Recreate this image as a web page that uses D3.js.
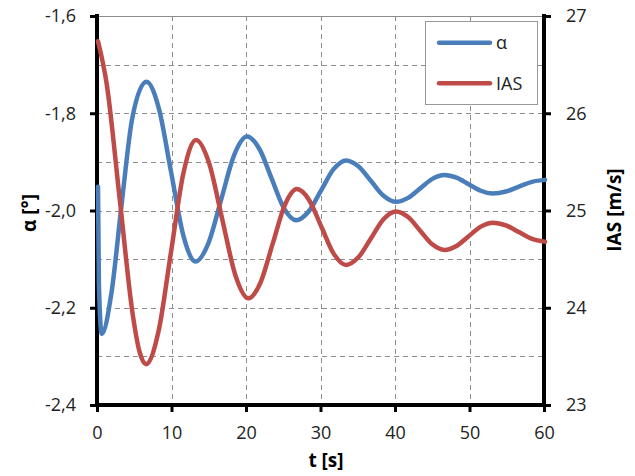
<!DOCTYPE html>
<html>
<head>
<meta charset="utf-8">
<script src="https://cdnjs.cloudflare.com/ajax/libs/d3/7.8.5/d3.min.js"></script>
<style>
  html, body { margin: 0; padding: 0; background: #fff; }
  svg { display: block; font-family: "Open Sans", "Noto Sans", sans-serif; }
</style>
</head>
<body>
<svg id="chart" width="635" height="476"></svg>
<script>
// Time samples (s) and angle of attack (°)
const alphaTime = [0, 0.12, 0.5, 1.8, 3.15, 4.6, 6.5, 8.15, 9.8, 11.45, 13.1,
  14.825, 16.55, 18.275, 20.0, 21.65, 23.3, 24.95, 26.6, 28.275, 29.95, 31.625, 33.3,
  34.975, 36.65, 38.325, 40.0, 41.625, 43.25, 44.875, 46.5, 48.125, 49.75, 51.375, 53.0,
  54.75, 56.5, 58.25, 60.0];
const alphaValues = [-1.951, -2.15, -2.254, -2.17, -1.99, -1.81, -1.735, -1.789, -1.92, -2.051, -2.105,
  -2.067, -1.9765, -1.886, -1.848, -1.873, -1.934, -1.995, -2.02, -2.002, -1.9585, -1.915, -1.897,
  -1.9094, -1.9395, -1.9696, -1.982, -1.974, -1.9545, -1.935, -1.927, -1.9326, -1.946, -1.9594, -1.965,
  -1.961, -1.951, -1.941, -1.937];

// Time samples (s) and indicated airspeed (m/s)
const iasTime = [0, 1.16, 2.925, 4.69, 5.57, 6.45, 8.125, 9.8, 11.475, 13.15,
  14.91, 16.675, 18.44, 20.2, 21.825, 23.45, 25.075, 26.7, 28.35, 30.0, 31.65, 33.3,
  34.975, 36.65, 38.325, 40.0, 41.625, 43.25, 44.875, 46.5, 48.125, 49.75, 51.375, 53.0,
  54.75, 56.5, 58.25, 60.0];
const iasValues = [26.74, 26.305, 25.11, 23.915, 23.548, 23.42, 23.758, 24.573, 25.388, 25.725,
  25.487, 24.911, 24.335, 24.097, 24.261, 24.659, 25.056, 25.22, 25.106, 24.83, 24.554, 24.44,
  24.521, 24.715, 24.91, 24.99, 24.932, 24.792, 24.652, 24.594, 24.635, 24.735, 24.834, 24.875,
  24.847, 24.778, 24.709, 24.68];

const xTicks = [0, 10, 20, 30, 40, 50, 60];
const alphaTicks = [-1.6, -1.8, -2.0, -2.2, -2.4];
const alphaGrid = [-1.7, -1.8, -1.9, -2.0, -2.1, -2.2, -2.3];
const iasTicks = [23, 24, 25, 26, 27];
const seriesNames = ["α", "IAS"];
const seriesColors = ["#4a7ebb", "#be4b48"];

const m = { left: 97, right: 544, top: 16, bottom: 405 };
const svg = d3.select("#chart");

const x = d3.scaleLinear().domain([0, 60]).range([m.left, m.right]);
const yA = d3.scaleLinear().domain([-2.4, -1.6]).range([m.bottom, m.top]);
const yI = d3.scaleLinear().domain([23, 27]).range([m.bottom, m.top]);

const fmt = d => d3.format(".1f")(d).replace(".", ",").replace("−", "-");

// dashed grid
const grid = svg.append("g").attr("stroke", "#8c8c8c").attr("stroke-width", 1)
  .attr("stroke-dasharray", "5,4").attr("shape-rendering", "crispEdges");
grid.selectAll("line.h").data(alphaGrid).join("line")
  .attr("x1", m.left).attr("x2", m.right)
  .attr("y1", d => Math.round(yA(d)) + 0.5).attr("y2", d => Math.round(yA(d)) + 0.5);
grid.selectAll("line.v").data(xTicks.slice(1, -1)).join("line")
  .attr("y1", m.top).attr("y2", m.bottom)
  .attr("x1", d => Math.round(x(d)) + 0.5).attr("x2", d => Math.round(x(d)) + 0.5);
svg.append("line").attr("x1", m.left).attr("x2", m.right)
  .attr("y1", m.top + 0.5).attr("y2", m.top + 0.5)
  .attr("stroke", "#8c8c8c").attr("stroke-width", 1);

// axes
function styleAxis(g) {
  g.select(".domain").remove();
  g.selectAll(".tick line").attr("stroke", "#000").attr("stroke-width", 3);
  g.selectAll(".tick text").attr("fill", "#222").style("font-size", "18px")
    .style("font-family", "'Open Sans', sans-serif");
}
svg.append("g").attr("transform", `translate(${m.left},0)`)
  .call(d3.axisLeft(yA).tickValues(alphaTicks).tickFormat(fmt).tickSize(7).tickPadding(14))
  .call(styleAxis);
svg.append("g").attr("transform", `translate(${m.right},0)`)
  .call(d3.axisRight(yI).tickValues(iasTicks).tickFormat(d3.format("d")).tickSize(7).tickPadding(15))
  .call(styleAxis);
svg.append("g").attr("transform", `translate(0,${m.bottom})`)
  .call(d3.axisBottom(x).tickValues(xTicks).tickFormat(d3.format("d")).tickSize(7).tickPadding(14))
  .call(styleAxis);

// axis lines
const ax = svg.append("g").attr("stroke", "#000").attr("stroke-width", 4).attr("stroke-linecap", "square");
ax.append("line").attr("x1", m.left).attr("x2", m.left).attr("y1", m.top).attr("y2", m.bottom);
ax.append("line").attr("x1", m.right).attr("x2", m.right).attr("y1", m.top).attr("y2", m.bottom);
ax.append("line").attr("x1", m.left).attr("x2", m.right).attr("y1", m.bottom).attr("y2", m.bottom);

// series, drawn over the axis lines
const line = d3.line().curve(d3.curveMonotoneX);
svg.append("path")
  .attr("d", line(alphaTime.map((t, i) => [x(t) + 1, yA(alphaValues[i])])))
  .attr("fill", "none").attr("stroke", seriesColors[0]).attr("stroke-width", 4.5)
  .attr("stroke-linejoin", "round").attr("stroke-linecap", "round");
svg.append("path")
  .attr("d", line(iasTime.map((t, i) => [x(t) + 1, yI(iasValues[i])])))
  .attr("fill", "none").attr("stroke", seriesColors[1]).attr("stroke-width", 4.5)
  .attr("stroke-linejoin", "round").attr("stroke-linecap", "round");

// axis titles
svg.append("text").attr("transform", "translate(36,213) rotate(-90)")
  .attr("text-anchor", "middle").style("font-size", "19px").style("font-weight", "bold")
  .attr("fill", "#000").text("α [°]");
svg.append("text").attr("transform", "translate(621,210) rotate(-90)")
  .attr("text-anchor", "middle").style("font-size", "19px").style("font-weight", "bold")
  .attr("fill", "#000").text("IAS [m/s]");
svg.append("text").attr("x", 326).attr("y", 467)
  .attr("text-anchor", "middle").style("font-size", "19px").style("font-weight", "bold")
  .attr("fill", "#000").text("t [s]");

// legend
const lg = svg.append("g");
lg.append("rect").attr("x", 425.5).attr("y", 21.5).attr("width", 112).attr("height", 83)
  .attr("fill", "#fff").attr("stroke", "#999").attr("stroke-width", 1);
seriesNames.forEach((name, i) => {
  const yy = 42.7 + i * 40.6;
  lg.append("line").attr("x1", 439).attr("x2", 490).attr("y1", yy).attr("y2", yy)
    .attr("stroke", seriesColors[i]).attr("stroke-width", 4.5).attr("stroke-linecap", "round");
  lg.append("text").attr("x", 496).attr("y", yy).attr("dy", "0.35em")
    .style("font-size", "18px").attr("fill", "#222").text(name);
});
</script>
</body>
</html>
